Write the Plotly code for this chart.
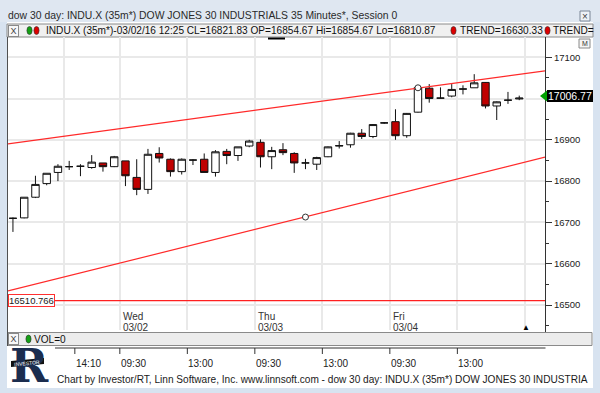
import plotly.graph_objects as go

# ---------------- data ----------------
bar_open = [16710, 16711, 16761, 16794, 16821, 16835, 16836, 16833, 16844, 16835,
            16849, 16809, 16780, 16867, 16853, 16823, 16851, 16853, 16821, 16872,
            16862, 16885, 16894, 16859, 16876, 16867, 16844, 16841, 16859, 16885,
            16888, 16916, 16908, 16941, 16944, 16910, 16967, 17025, 17001, 17006,
            17023, 17026, 17039, 16982, 16996, 16999]
bar_high = [16712, 16761, 16813, 16819, 16841, 16849, 16841, 16863, 16844, 16861,
            16849, 16853, 16878, 16882, 16855, 16855, 16853, 16867, 16875, 16878,
            16883, 16900, 16901, 16883, 16892, 16870, 16854, 16859, 16884, 16897,
            16917, 16926, 16938, 16943, 16974, 16965, 17027, 17035, 17027, 17035,
            17032, 17059, 17040, 16993, 17016, 17007]
bar_low = [16677, 16710, 16759, 16790, 16800, 16827, 16812, 16830, 16823, 16834,
           16788, 16766, 16769, 16845, 16811, 16816, 16839, 16821, 16811, 16841,
           16849, 16882, 16833, 16829, 16863, 16820, 16829, 16827, 16858, 16879,
           16881, 16902, 16904, 16939, 16900, 16905, 16966, 16990, 17001, 17003,
           17010, 17026, 16976, 16948, 16987, 16996]
bar_close = [16710, 16761, 16792, 16819, 16836, 16835, 16836, 16846, 16835, 16859,
             16813, 16780, 16865, 16856, 16823, 16853, 16851, 16821, 16871, 16862,
             16883, 16897, 16859, 16874, 16869, 16844, 16844, 16857, 16883, 16886,
             16916, 16908, 16937, 16941, 16910, 16964, 17027, 17000, 17001, 17022,
             17023, 17038, 16982, 16992, 16996, 17001]
bar_index = list(range(len(bar_open)))

# trend channel (two anchor points each, in bar-index / price units)
upper_trend_x = [-0.44, 47.29]
upper_trend_y = [16890, 17067]
lower_trend_x = [-0.44, 47.29]
lower_trend_y = [16534, 16858]
trend_anchor_x = [36, 26]
trend_anchor_y = [17026, 16713]
support_level = 16510.766
last_price = 17006.77

price_ticks = [16500, 16600, 16700, 16800, 16900, 17000, 17100]
minor_ticks = [16450, 16550, 16650, 16750, 16850, 16950, 17050, 17150]
grid_x = [4.5, 9.5, 15.5, 21.5, 27.5, 33.5, 39.5, 45.5]
time_tick_x = [5.5, 9.5, 15.5, 21.5, 27.5, 33.5, 39.5]
time_tick_labels = ["14:10", "09:30", "13:00", "09:30", "13:00", "09:30", "13:00"]
day_tick_x = [9.5, 21.5, 33.5]
day_names = ["Wed", "Thu", "Fri"]
day_dates = ["03/02", "03/03", "03/04"]

title_text = "dow 30 day: INDU.X (35m*) DOW JONES 30 INDUSTRIALS 35 Minutes*, Session 0"
legend_text = "INDU.X (35m*)-03/02/16 12:25 CL=16821.83 OP=16854.67 Hi=16854.67 Lo=16810.87"
trend_text = "TREND=16630.33"
footer_text = ("Chart by Investor/RT, Linn Software, Inc. www.linnsoft.com - dow 30 day: "
               "INDU.X (35m*) DOW JONES 30 INDUSTRIA")

# ---------------- helpers ----------------
W, H = 600, 393
FONT = "Liberation Sans"


def X(px):
    return px / W


def Y(py):
    return 1 - py / H


fig = go.Figure()

fig.add_trace(go.Candlestick(
    x=bar_index, open=bar_open, high=bar_high, low=bar_low, close=bar_close,
    increasing=dict(line=dict(color="#111111", width=1), fillcolor="#ffffff"),
    decreasing=dict(line=dict(color="#111111", width=1), fillcolor="#c00000"),
    whiskerwidth=0, showlegend=False, hoverinfo="skip"))

for tx, ty in ((upper_trend_x, upper_trend_y), (lower_trend_x, lower_trend_y)):
    fig.add_trace(go.Scatter(x=tx, y=ty, mode="lines",
                             line=dict(color="#ff2a2a", width=1.2),
                             showlegend=False, hoverinfo="skip"))

fig.add_trace(go.Scatter(x=trend_anchor_x, y=trend_anchor_y, mode="markers",
                         marker=dict(symbol="circle", size=6, color="#ffffff",
                                     line=dict(color="#333333", width=1)),
                         showlegend=False, hoverinfo="skip"))

shapes = []
ann = []


def dot(cx, cy, color):
    shapes.append(dict(type="circle", xref="paper", yref="paper",
                       x0=X(cx - 2.6), x1=X(cx + 2.6), y0=Y(cy - 4), y1=Y(cy + 4),
                       fillcolor=color, line=dict(color="#333333", width=0.6)))


# window frame pieces
shapes.append(dict(type="rect", xref="paper", yref="paper", x0=X(0), x1=X(600), y0=Y(0), y1=Y(22),
                   fillcolor="#dfe7f1", line=dict(width=0), layer="below"))
shapes.append(dict(type="rect", xref="paper", yref="paper", x0=X(7), x1=X(593), y0=Y(22), y1=Y(388),
                   fillcolor="#ffffff", line=dict(width=0), layer="below"))
# legend bar
shapes.append(dict(type="rect", xref="paper", yref="paper", x0=X(7), x1=X(593), y0=Y(24), y1=Y(37),
                   fillcolor="#f0f0f0", line=dict(color="#8a8a8a", width=1), layer="below"))
# left dark border line
shapes.append(dict(type="line", xref="paper", yref="paper", x0=X(7.5), x1=X(7.5), y0=Y(37), y1=Y(346),
                   line=dict(color="#505050", width=1)))
# VOL bar
shapes.append(dict(type="rect", xref="paper", yref="paper", x0=X(7.5), x1=X(592), y0=Y(332.5), y1=Y(345.5),
                   fillcolor="#ececec", line=dict(color="#8a8a8a", width=1), layer="below"))
# time axis line + right axis extension
shapes.append(dict(type="line", xref="paper", yref="paper", x0=X(55), x1=X(545.5), y0=Y(348), y1=Y(348),
                   line=dict(color="#333333", width=1)))
shapes.append(dict(type="line", xref="paper", yref="paper", x0=X(545.5), x1=X(545.5), y0=Y(330), y1=Y(332),
                   line=dict(color="#333333", width=1)))
for tx in time_tick_x:
    shapes.append(dict(type="line", xref="x", yref="paper", x0=tx, x1=tx, y0=Y(348), y1=Y(354),
                       line=dict(color="#333333", width=1)))
# support line
shapes.append(dict(type="line", xref="paper", yref="y", x0=X(8), x1=X(545), y0=support_level, y1=support_level,
                   line=dict(color="#ff2020", width=1.2)))
# price tag
shapes.append(dict(type="rect", xref="paper", yref="paper", x0=X(547), x1=X(593), y0=Y(90), y1=Y(102),
                   fillcolor="#000000", line=dict(width=0)))
shapes.append(dict(type="path", xref="paper", yref="paper",
                   path=f"M {X(540)},{Y(96)} L {X(547)},{Y(90.5)} L {X(547)},{Y(101.5)} Z",
                   fillcolor="#00a000", line=dict(width=0)))
# cursor mark top
shapes.append(dict(type="rect", xref="paper", yref="paper", x0=X(268), x1=X(285), y0=Y(37.5), y1=Y(39.5),
                   fillcolor="#000000", line=dict(width=0)))
# close button in title bar
shapes.append(dict(type="rect", xref="paper", yref="paper", x0=X(580), x1=X(590), y0=Y(11), y1=Y(21),
                   fillcolor="#eef2f7", line=dict(color="#7a8696", width=1)))
# M box
shapes.append(dict(type="rect", xref="paper", yref="paper", x0=X(579), x1=X(590), y0=Y(39), y1=Y(48),
                   fillcolor="#f4f4f4", line=dict(color="#8a8a8a", width=1)))
# logo banner
shapes.append(dict(type="path", xref="paper", yref="paper",
                   path=f"M {X(11)},{Y(361)} L {X(44)},{Y(358)} L {X(44)},{Y(364)} L {X(11)},{Y(367)} Z",
                   fillcolor="#111111", line=dict(width=0)))

# legend dots
dot(29.5, 30.5, "#14a014")
dot(36.5, 30.5, "#dd0000")
dot(453.5, 30.5, "#dd0000")
dot(547.5, 30.5, "#dd0000")
dot(28.5, 339, "#14a014")

# ---------------- text ----------------
ann.append(dict(x=X(6), y=Y(15.5), xref="paper", yref="paper", xanchor="left", yanchor="middle",
                text=title_text, showarrow=False, font=dict(family=FONT, size=10.4, color="#2a2a2a")))
ann.append(dict(x=X(585), y=Y(16), xref="paper", yref="paper", xanchor="center", yanchor="middle",
                text="×", showarrow=False, font=dict(family=FONT, size=10, color="#444444")))
# legend row
ann.append(dict(x=X(13.5), y=Y(30.5), xref="paper", yref="paper", xanchor="center", yanchor="middle",
                text="X", showarrow=False, font=dict(family=FONT, size=9, color="#444444"),
                bordercolor="#8a8a8a", borderwidth=1, borderpad=0, width=9, height=10, bgcolor="#f8f8f8"))
ann.append(dict(x=X(44), y=Y(30.5), xref="paper", yref="paper", xanchor="left", yanchor="middle",
                text=legend_text, showarrow=False, font=dict(family=FONT, size=10.1, color="#111111")))
ann.append(dict(x=X(457.5), y=Y(30.5), xref="paper", yref="paper", xanchor="left", yanchor="middle",
                text=trend_text, showarrow=False, font=dict(family=FONT, size=10.1, color="#111111")))
ann.append(dict(x=X(551), y=Y(30.5), xref="paper", yref="paper", xanchor="left", yanchor="middle",
                text="TREND=", showarrow=False, font=dict(family=FONT, size=10.1, color="#111111")))
ann.append(dict(x=X(584.5), y=Y(43.5), xref="paper", yref="paper", xanchor="center", yanchor="middle",
                text="M", showarrow=False, font=dict(family=FONT, size=7, color="#333333")))
# price tag text
ann.append(dict(x=X(570), y=Y(96), xref="paper", yref="paper", xanchor="center", yanchor="middle",
                text=f"{last_price:.2f}", showarrow=False, font=dict(family=FONT, size=10.5, color="#ffffff")))
# support level box
ann.append(dict(x=X(8), y=support_level, xref="paper", yref="y", xanchor="left", yanchor="middle",
                text=f"{support_level:.3f}", showarrow=False, font=dict(family=FONT, size=9.5, color="#222222"),
                bgcolor="#ffffff", bordercolor="#ff3030", borderwidth=1, borderpad=0))
# day labels
for dx, dn, dd in zip(day_tick_x, day_names, day_dates):
    ann.append(dict(x=dx, y=Y(316), xref="x", yref="paper", xanchor="left", yanchor="middle", xshift=1,
                    text=dn, showarrow=False, font=dict(family=FONT, size=10, color="#333333")))
    ann.append(dict(x=dx, y=Y(327), xref="x", yref="paper", xanchor="left", yanchor="middle", xshift=1,
                    text=dd, showarrow=False, font=dict(family=FONT, size=10, color="#333333")))
# time labels
for tx, tl in zip(time_tick_x, time_tick_labels):
    ann.append(dict(x=tx, y=Y(363), xref="x", yref="paper", xanchor="left", yanchor="middle", xshift=-1,
                    text=tl, showarrow=False, font=dict(family=FONT, size=10, color="#222222")))
# triangle marker
ann.append(dict(x=X(525.5), y=Y(327), xref="paper", yref="paper", xanchor="center", yanchor="middle",
                text="▲", showarrow=False, font=dict(family=FONT, size=8, color="#000000")))
# VOL row
ann.append(dict(x=X(13.5), y=Y(339), xref="paper", yref="paper", xanchor="center", yanchor="middle",
                text="X", showarrow=False, font=dict(family=FONT, size=9, color="#444444"),
                bordercolor="#8a8a8a", borderwidth=1, borderpad=0, width=9, height=10, bgcolor="#f8f8f8"))
ann.append(dict(x=X(32), y=Y(339), xref="paper", yref="paper", xanchor="left", yanchor="middle",
                text="VOL=0", showarrow=False, font=dict(family=FONT, size=10.1, color="#111111")))
# logo
ann.append(dict(x=X(29), y=Y(366), xref="paper", yref="paper", xanchor="center", yanchor="middle",
                text="<b>R</b>", showarrow=False, font=dict(family="DejaVu Serif", size=46, color="#1b2d4f")))
ann.append(dict(x=X(27.5), y=Y(362.5), xref="paper", yref="paper", xanchor="center", yanchor="middle",
                text="INVESTOR", showarrow=False, textangle=-5, font=dict(family=FONT, size=5, color="#ffffff")))
# footer
ann.append(dict(x=X(55), y=Y(379), xref="paper", yref="paper", xanchor="left", yanchor="middle",
                text=footer_text, showarrow=False, font=dict(family=FONT, size=10.1, color="#1a1a1a")))

fig.update_layout(
    width=W, height=H, margin=dict(l=0, r=0, t=0, b=0),
    paper_bgcolor="#d8e3f0", plot_bgcolor="#ffffff",
    boxgap=0.34, boxgroupgap=0,
    shapes=shapes, annotations=ann,
    xaxis=dict(domain=[X(8), X(545)], range=[-0.44, 47.29], rangeslider=dict(visible=False),
               tickvals=grid_x, showticklabels=False, ticks="", showgrid=True,
               gridcolor="#e9e9e9", gridwidth=2, zeroline=False, showline=False, fixedrange=True),
    yaxis=dict(domain=[Y(330), Y(37)], range=[16439.5, 17149], side="right",
               tickvals=price_ticks, ticktext=[str(v) for v in price_ticks],
               ticks="outside", ticklen=6, tickcolor="#333333", tickwidth=1,
               minor=dict(tickvals=minor_ticks, ticks="outside", ticklen=3, tickcolor="#333333", showgrid=False),
               showline=True, linecolor="#333333", linewidth=1,
               showgrid=True, gridcolor="#e9e9e9", gridwidth=2, zeroline=False,
               tickfont=dict(family=FONT, size=9.5, color="#222222"), fixedrange=True),
    showlegend=False,
)

fig.write_html("out.html", config={"displayModeBar": False},
               post_script="document.body.style.margin='0px';")
